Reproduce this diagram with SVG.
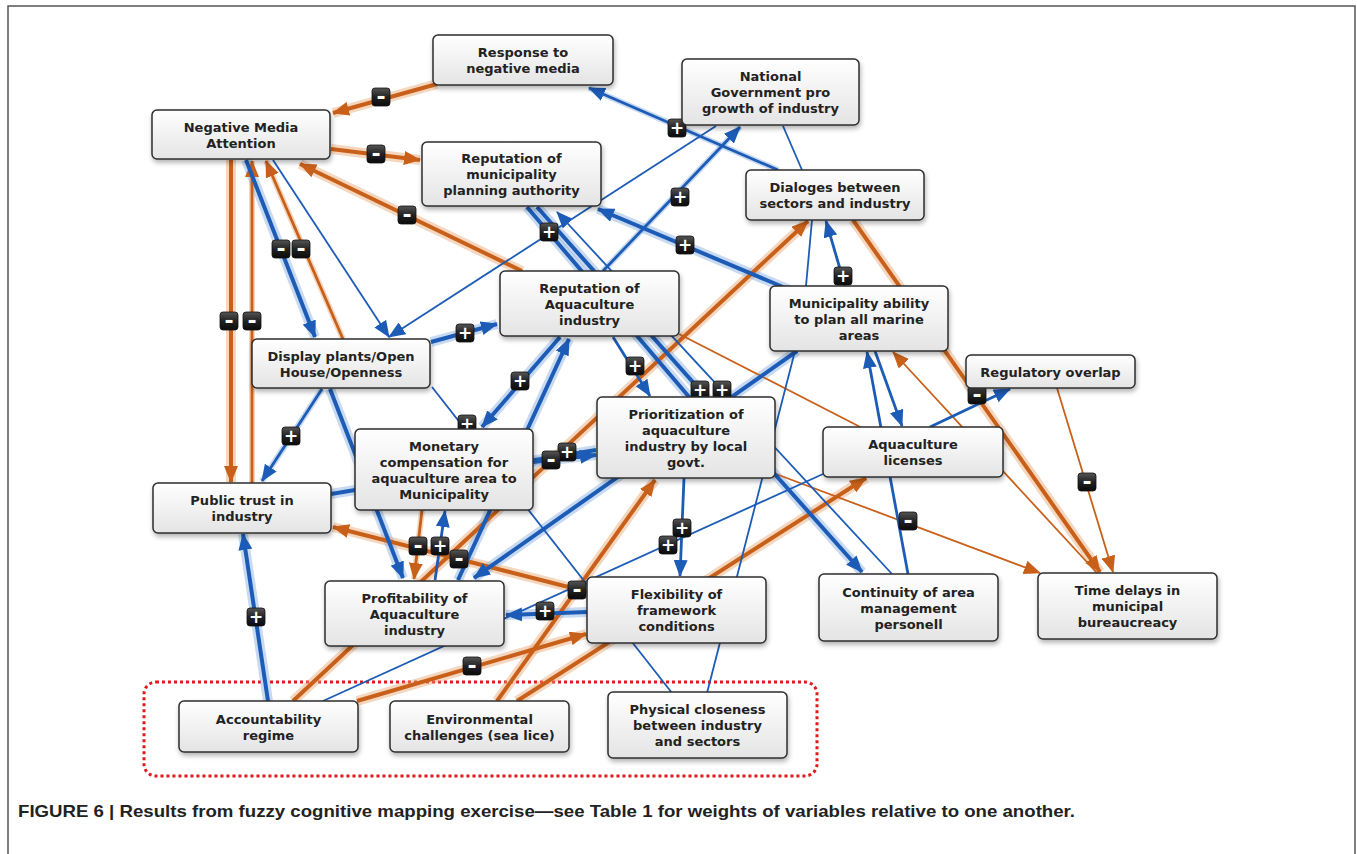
<svg xmlns="http://www.w3.org/2000/svg" width="1357" height="854" viewBox="0 0 1357 854">
<style>
.o{stroke:#c8601a;fill:none}
.b{stroke:#1d5cb6;fill:none}
.oh{stroke:#e9a770;fill:none;stroke-width:10;opacity:.45}
.bh{stroke:#86aee0;fill:none;stroke-width:10;opacity:.45}
.mh{stroke-width:6}
.tk{stroke-width:4}
.md{stroke-width:2.8}
.tn{stroke-width:1.8}
.ao{marker-end:url(#ao)}
.ab{marker-end:url(#ab)}
.node rect{fill:url(#ng);stroke:#2e2e2e;stroke-width:1.5;filter:url(#sh)}
.node text{font-family:"DejaVu Sans",Verdana,sans-serif;font-weight:bold;font-size:13px;fill:#222;text-anchor:middle}
.sg rect{fill:url(#sgg);stroke:#111;stroke-width:.8}
.sg text{font-family:"DejaVu Sans",sans-serif;font-weight:bold;fill:#fff;text-anchor:middle}
.p{font-size:17px}
.m{font-size:22px}
</style>
<defs>
<linearGradient id="ng" x1="0" y1="0" x2="0" y2="1"><stop offset="0" stop-color="#ffffff"/><stop offset="1" stop-color="#e4e4e4"/></linearGradient>
<linearGradient id="sgg" x1="0" y1="0" x2="0" y2="1"><stop offset="0" stop-color="#555"/><stop offset=".5" stop-color="#222"/><stop offset="1" stop-color="#0a0a0a"/></linearGradient>
<filter id="sh" x="-10%" y="-20%" width="125%" height="160%"><feGaussianBlur in="SourceAlpha" stdDeviation="2.5"/><feOffset dx="1" dy="3"/><feComponentTransfer><feFuncA type="linear" slope="0.3"/></feComponentTransfer><feMerge><feMergeNode/><feMergeNode in="SourceGraphic"/></feMerge></filter>
<marker id="ao" markerUnits="userSpaceOnUse" markerWidth="17" markerHeight="14" viewBox="0 0 17 14" refX="16" refY="7" orient="auto"><path d="M0,0 L17,7 L0,14 z" fill="#c8601a"/></marker>
<marker id="ab" markerUnits="userSpaceOnUse" markerWidth="17" markerHeight="14" viewBox="0 0 17 14" refX="16" refY="7" orient="auto"><path d="M0,0 L17,7 L0,14 z" fill="#1d5cb6"/></marker>
</defs>
<rect width="1357" height="854" fill="#fff"/>
<path d="M8,860 V6 H1355 V860" fill="none" stroke="#555" stroke-width="1.5"/>
<rect x="144" y="682" width="673" height="94" rx="12" fill="none" stroke="#e0191b" stroke-width="3" stroke-dasharray="3 3"/>

<g id="connectors">
<path class="oh" d="M437,84 L333,113"/>
<path class="oh" d="M331,149 L420,160"/>
<path class="oh" d="M522,271 L300,164"/>
<path class="oh" d="M231,160 L231,482"/>
<path class="oh mh" d="M252,483 L252,161"/>
<path class="oh mh" d="M343,339 L266,161"/>
<path class="oh" d="M293,701 L808,221"/>
<path class="oh" d="M497,701 L655,480"/>
<path class="oh" d="M517,701 L866,478"/>
<path class="oh" d="M357,701 L586,634"/>
<path class="oh" d="M588,592 L333,527"/>
<path class="oh" d="M853,220 L1100,572"/>
<path class="oh mh" d="M422,510 L414,579"/>
<path class="bh mh" d="M778,170 L589,88"/>
<path class="bh mh" d="M603,271 L740,127"/>
<path class="bh" d="M790,290 L598,209"/>
<path class="bh" d="M537,207 L862,572"/>
<path class="bh" d="M527,207 L690,398"/>
<path class="bh" d="M431,342 L497,324"/>
<path class="bh" d="M560,337 L482,427"/>
<path class="bh" d="M458,580 L569,339"/>
<path class="bh" d="M533,462 L596,455"/>
<path class="bh" d="M331,494 L596,450"/>
<path class="bh" d="M246,160 L315,337"/>
<path class="bh" d="M330,389 L403,578"/>
<path class="bh mh" d="M322,389 L262,481"/>
<path class="bh" d="M268,701 L243,534"/>
<path class="bh" d="M797,351 L474,578"/>
<path class="bh" d="M587,612 L506,615"/>
<path class="o tk ao" d="M437,84 L333,113"/>
<path class="o tk ao" d="M331,149 L420,160"/>
<path class="o tk ao" d="M522,271 L300,164"/>
<path class="o tk ao" d="M231,160 L231,482"/>
<path class="o md ao" d="M252,483 L252,161"/>
<path class="o md ao" d="M343,339 L266,161"/>
<path class="o tk ao" d="M293,701 L808,221"/>
<path class="o tk ao" d="M497,701 L655,480"/>
<path class="o tk ao" d="M517,701 L866,478"/>
<path class="o tk ao" d="M357,701 L586,634"/>
<path class="o tk ao" d="M588,592 L333,527"/>
<path class="o tn ao" d="M776,474 L1040,573"/>
<path class="o tk ao" d="M853,220 L1100,572"/>
<path class="o tn ao" d="M1057,388 L1113,572"/>
<path class="o tn ao" d="M1097,573 L893,352"/>
<path class="o tn" d="M679,334 L870,432"/>
<path class="o md ao" d="M422,510 L414,579"/>
<path class="b md ab" d="M778,170 L589,88"/>
<path class="b tn" d="M783,126 L802,170"/>
<path class="b tn" d="M812,220 L806,286"/>
<path class="b md ab" d="M603,271 L740,127"/>
<path class="b tn ab" d="M716,126 L389,337"/>
<path class="b tk ab" d="M790,290 L598,209"/>
<path class="b tk ab" d="M537,207 L862,572"/>
<path class="b tk" d="M527,207 L690,398"/>
<path class="b tn ab" d="M892,574 L557,212"/>
<path class="b tk ab" d="M431,342 L497,324"/>
<path class="b tk ab" d="M560,337 L482,427"/>
<path class="b tk ab" d="M458,580 L569,339"/>
<path class="b tk ab" d="M533,462 L596,455"/>
<path class="b tk" d="M331,494 L596,450"/>
<path class="b tk ab" d="M246,160 L315,337"/>
<path class="b tn ab" d="M273,160 L389,337"/>
<path class="b tk ab" d="M330,389 L403,578"/>
<path class="b md ab" d="M322,389 L262,481"/>
<path class="b tk ab" d="M268,701 L243,534"/>
<path class="b tn" d="M323,701 L823,474"/>
<path class="b tk ab" d="M797,351 L474,578"/>
<path class="b md ab" d="M684,478 L680,576"/>
<path class="b tk ab" d="M587,612 L506,615"/>
<path class="b tn" d="M672,693 L432,387"/>
<path class="b tn" d="M707,693 L795,351"/>
<path class="b md ab" d="M875,351 L902,426"/>
<path class="b md ab" d="M908,574 L867,352"/>
<path class="b md ab" d="M930,427 L1010,389"/>
<path class="b md ab" d="M435,580 L445,511"/>
<path class="b md ab" d="M613,337 L650,396"/>
<path class="b md ab" d="M845,286 L826,221"/>
<g class="sg" transform="translate(381,97)"><rect x="-9" y="-9" width="18" height="18" rx="3"/><text class="m" y="7">-</text></g>
<g class="sg" transform="translate(376,154)"><rect x="-9" y="-9" width="18" height="18" rx="3"/><text class="m" y="7">-</text></g>
<g class="sg" transform="translate(407,215)"><rect x="-9" y="-9" width="18" height="18" rx="3"/><text class="m" y="7">-</text></g>
<g class="sg" transform="translate(281,249)"><rect x="-9" y="-9" width="18" height="18" rx="3"/><text class="m" y="7">-</text></g>
<g class="sg" transform="translate(301,249)"><rect x="-9" y="-9" width="18" height="18" rx="3"/><text class="m" y="7">-</text></g>
<g class="sg" transform="translate(229,321)"><rect x="-9" y="-9" width="18" height="18" rx="3"/><text class="m" y="7">-</text></g>
<g class="sg" transform="translate(252,321)"><rect x="-9" y="-9" width="18" height="18" rx="3"/><text class="m" y="7">-</text></g>
<g class="sg" transform="translate(677,128)"><rect x="-9" y="-9" width="18" height="18" rx="3"/><text class="p" y="6">+</text></g>
<g class="sg" transform="translate(680,197)"><rect x="-9" y="-9" width="18" height="18" rx="3"/><text class="p" y="6">+</text></g>
<g class="sg" transform="translate(549,232)"><rect x="-9" y="-9" width="18" height="18" rx="3"/><text class="p" y="6">+</text></g>
<g class="sg" transform="translate(685,245)"><rect x="-9" y="-9" width="18" height="18" rx="3"/><text class="p" y="6">+</text></g>
<g class="sg" transform="translate(843,276)"><rect x="-9" y="-9" width="18" height="18" rx="3"/><text class="p" y="6">+</text></g>
<g class="sg" transform="translate(465,333)"><rect x="-9" y="-9" width="18" height="18" rx="3"/><text class="p" y="6">+</text></g>
<g class="sg" transform="translate(520,381)"><rect x="-9" y="-9" width="18" height="18" rx="3"/><text class="p" y="6">+</text></g>
<g class="sg" transform="translate(635,366)"><rect x="-9" y="-9" width="18" height="18" rx="3"/><text class="p" y="6">+</text></g>
<g class="sg" transform="translate(700,390)"><rect x="-9" y="-9" width="18" height="18" rx="3"/><text class="p" y="6">+</text></g>
<g class="sg" transform="translate(722,390)"><rect x="-9" y="-9" width="18" height="18" rx="3"/><text class="p" y="6">+</text></g>
<g class="sg" transform="translate(291,436)"><rect x="-9" y="-9" width="18" height="18" rx="3"/><text class="p" y="6">+</text></g>
<g class="sg" transform="translate(467,424)"><rect x="-9" y="-9" width="18" height="18" rx="3"/><text class="p" y="6">+</text></g>
<g class="sg" transform="translate(567,452)"><rect x="-9" y="-9" width="18" height="18" rx="3"/><text class="p" y="6">+</text></g>
<g class="sg" transform="translate(551,460)"><rect x="-9" y="-9" width="18" height="18" rx="3"/><text class="m" y="7">-</text></g>
<g class="sg" transform="translate(977,395)"><rect x="-9" y="-9" width="18" height="18" rx="3"/><text class="m" y="7">-</text></g>
<g class="sg" transform="translate(1087,482)"><rect x="-9" y="-9" width="18" height="18" rx="3"/><text class="m" y="7">-</text></g>
<g class="sg" transform="translate(908,521)"><rect x="-9" y="-9" width="18" height="18" rx="3"/><text class="m" y="7">-</text></g>
<g class="sg" transform="translate(418,546)"><rect x="-9" y="-9" width="18" height="18" rx="3"/><text class="m" y="7">-</text></g>
<g class="sg" transform="translate(440,546)"><rect x="-9" y="-9" width="18" height="18" rx="3"/><text class="p" y="6">+</text></g>
<g class="sg" transform="translate(459,559)"><rect x="-9" y="-9" width="18" height="18" rx="3"/><text class="m" y="7">-</text></g>
<g class="sg" transform="translate(682,528)"><rect x="-9" y="-9" width="18" height="18" rx="3"/><text class="p" y="6">+</text></g>
<g class="sg" transform="translate(668,545)"><rect x="-9" y="-9" width="18" height="18" rx="3"/><text class="p" y="6">+</text></g>
<g class="sg" transform="translate(577,590)"><rect x="-9" y="-9" width="18" height="18" rx="3"/><text class="m" y="7">-</text></g>
<g class="sg" transform="translate(545,611)"><rect x="-9" y="-9" width="18" height="18" rx="3"/><text class="p" y="6">+</text></g>
<g class="sg" transform="translate(472,666)"><rect x="-9" y="-9" width="18" height="18" rx="3"/><text class="m" y="7">-</text></g>
<g class="sg" transform="translate(256,617)"><rect x="-9" y="-9" width="18" height="18" rx="3"/><text class="p" y="6">+</text></g>
</g>

<g id="n-response" class="node"><rect x="433" y="35" width="180" height="50" rx="5"/><text><tspan x="523" y="57">Response to</tspan><tspan x="523" y="73">negative media</tspan></text></g>
<g id="n-nma" class="node"><rect x="152" y="110" width="178" height="49" rx="5"/><text><tspan x="241" y="131.5">Negative Media</tspan><tspan x="241" y="147.5">Attention</tspan></text></g>
<g id="n-natgov" class="node"><rect x="682" y="59" width="177" height="66" rx="5"/><text><tspan x="770.5" y="81">National</tspan><tspan x="770.5" y="97">Government pro</tspan><tspan x="770.5" y="113">growth of industry</tspan></text></g>
<g id="n-rmpa" class="node"><rect x="422" y="142" width="179" height="64" rx="5"/><text><tspan x="511.5" y="163">Reputation of</tspan><tspan x="511.5" y="179">municipality</tspan><tspan x="511.5" y="195">planning authority</tspan></text></g>
<g id="n-dialoges" class="node"><rect x="746" y="170" width="178" height="50" rx="5"/><text><tspan x="835" y="192">Dialoges between</tspan><tspan x="835" y="208">sectors and industry</tspan></text></g>
<g id="n-repaq" class="node"><rect x="500" y="271" width="179" height="65" rx="5"/><text><tspan x="589.5" y="292.5">Reputation of</tspan><tspan x="589.5" y="308.5">Aquaculture</tspan><tspan x="589.5" y="324.5">industry</tspan></text></g>
<g id="n-ma" class="node"><rect x="770" y="286" width="178" height="65" rx="5"/><text><tspan x="859" y="307.5">Municipality ability</tspan><tspan x="859" y="323.5">to plan all marine</tspan><tspan x="859" y="339.5">areas</tspan></text></g>
<g id="n-display" class="node"><rect x="252" y="339" width="178" height="49" rx="5"/><text><tspan x="341" y="360.5">Display plants/Open</tspan><tspan x="341" y="376.5">House/Openness</tspan></text></g>
<g id="n-regulatory" class="node"><rect x="966" y="355" width="169" height="33" rx="5"/><text><tspan x="1050.5" y="376.5">Regulatory overlap</tspan></text></g>
<g id="n-prio" class="node"><rect x="597" y="397" width="178" height="81" rx="5"/><text><tspan x="686" y="418.5">Prioritization of</tspan><tspan x="686" y="434.5">aquaculture</tspan><tspan x="686" y="450.5">industry by local</tspan><tspan x="686" y="466.5">govt.</tspan></text></g>
<g id="n-monetary" class="node"><rect x="355" y="429" width="178" height="81" rx="5"/><text><tspan x="444" y="450.5">Monetary</tspan><tspan x="444" y="466.5">compensation for</tspan><tspan x="444" y="482.5">aquaculture area to</tspan><tspan x="444" y="498.5">Municipality</tspan></text></g>
<g id="n-aqlic" class="node"><rect x="823" y="427" width="180" height="50" rx="5"/><text><tspan x="913" y="449">Aquaculture</tspan><tspan x="913" y="465">licenses</tspan></text></g>
<g id="n-public" class="node"><rect x="153" y="483" width="178" height="50" rx="5"/><text><tspan x="242" y="505">Public trust in</tspan><tspan x="242" y="521">industry</tspan></text></g>
<g id="n-profit" class="node"><rect x="325" y="581" width="179" height="65" rx="5"/><text><tspan x="414.5" y="602.5">Profitability of</tspan><tspan x="414.5" y="618.5">Aquaculture</tspan><tspan x="414.5" y="634.5">industry</tspan></text></g>
<g id="n-flex" class="node"><rect x="587" y="577" width="179" height="66" rx="5"/><text><tspan x="676.5" y="599">Flexibility of</tspan><tspan x="676.5" y="615">framework</tspan><tspan x="676.5" y="631">conditions</tspan></text></g>
<g id="n-continuity" class="node"><rect x="819" y="574" width="179" height="67" rx="5"/><text><tspan x="908.5" y="596.5">Continuity of area</tspan><tspan x="908.5" y="612.5">management</tspan><tspan x="908.5" y="628.5">personell</tspan></text></g>
<g id="n-time" class="node"><rect x="1038" y="573" width="179" height="66" rx="5"/><text><tspan x="1127.5" y="595">Time delays in</tspan><tspan x="1127.5" y="611">municipal</tspan><tspan x="1127.5" y="627">bureaucreacy</tspan></text></g>
<g id="n-account" class="node"><rect x="179" y="701" width="179" height="51" rx="5"/><text><tspan x="268.5" y="723.5">Accountability</tspan><tspan x="268.5" y="739.5">regime</tspan></text></g>
<g id="n-env" class="node"><rect x="390" y="701" width="179" height="51" rx="5"/><text><tspan x="479.5" y="723.5">Environmental</tspan><tspan x="479.5" y="739.5">challenges (sea lice)</tspan></text></g>
<g id="n-physical" class="node"><rect x="608" y="692" width="179" height="66" rx="5"/><text><tspan x="697.5" y="714">Physical closeness</tspan><tspan x="697.5" y="730">between industry</tspan><tspan x="697.5" y="746">and sectors</tspan></text></g>

<text x="18" y="817" font-family="'Liberation Sans',Arial,sans-serif" font-weight="bold" font-size="16.5" fill="#222" textLength="1057" lengthAdjust="spacingAndGlyphs">FIGURE 6 | Results from fuzzy cognitive mapping exercise—see Table 1 for weights of variables relative to one another.</text>
</svg>
